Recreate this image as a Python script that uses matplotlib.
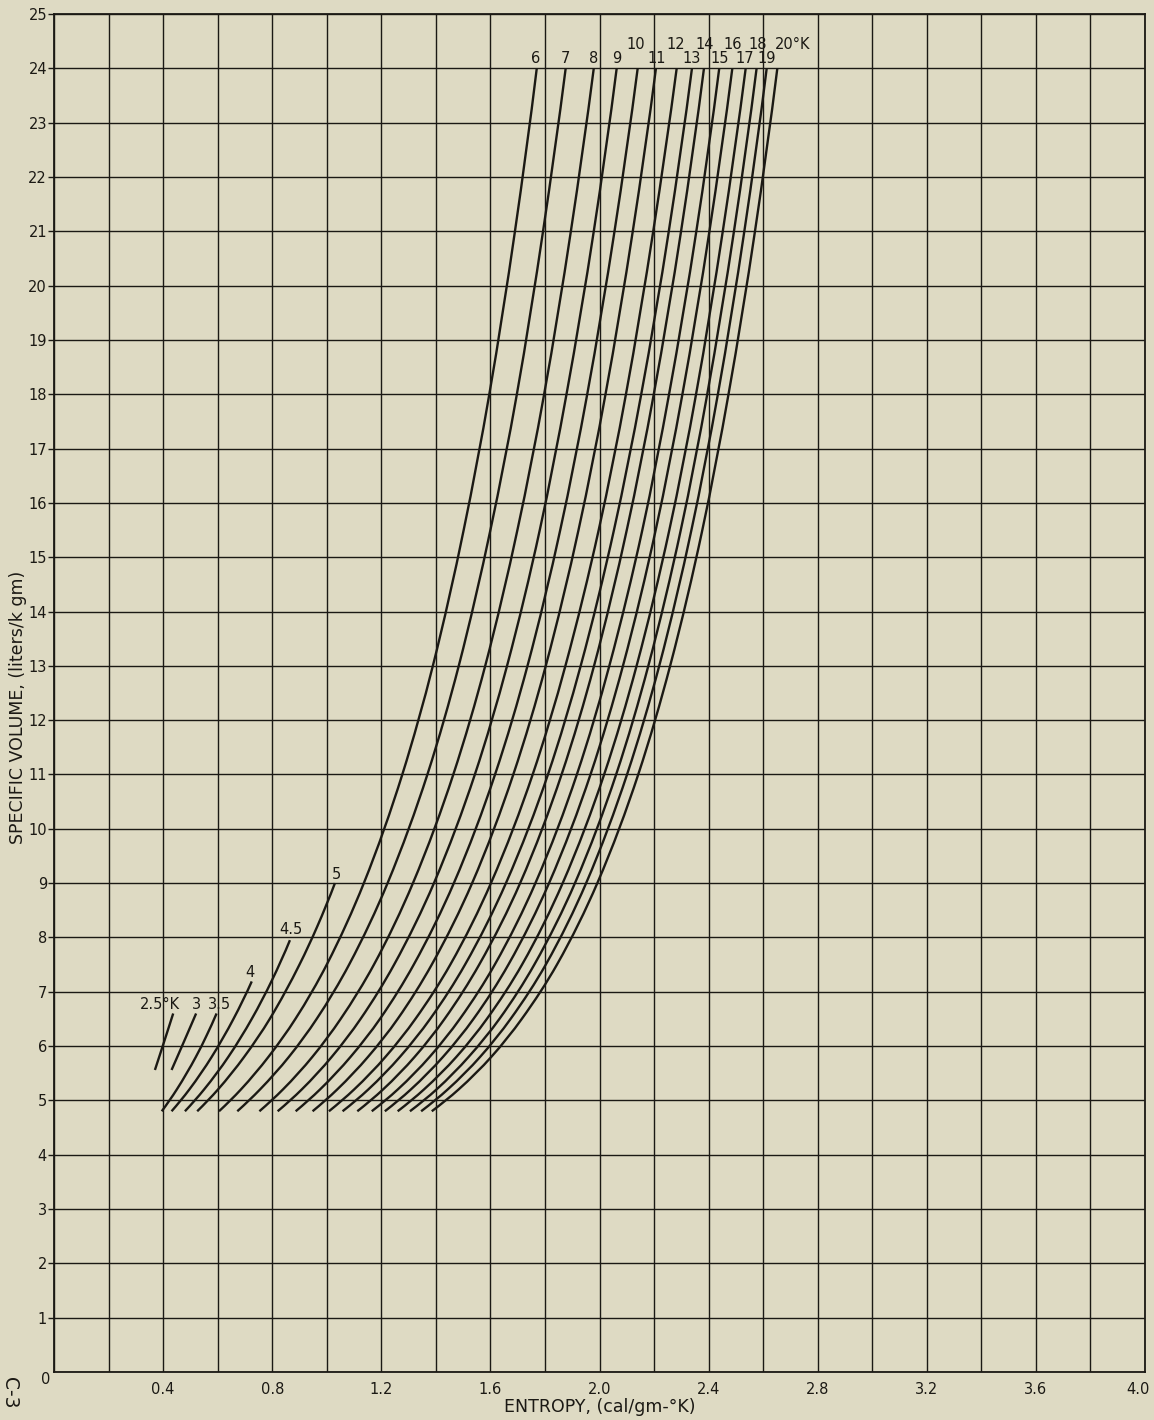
import matplotlib
matplotlib.use('Agg')
import matplotlib.pyplot as plt
from matplotlib.ticker import MultipleLocator
from matplotlib.path import Path
from matplotlib.patches import PathPatch
from matplotlib.transforms import ScaledTranslation

# ---------------- data ----------------
# common specific-volume levels for the 6..20 K isotherms (liters/k gm)
volume_levels = [4.8, 5.2, 5.8, 6.5, 7.5, 9, 11, 13, 15.5, 18, 21, 24]

entropy_6K  = [0.605, 0.685, 0.786, 0.885, 1.000, 1.136, 1.277, 1.389, 1.502, 1.596, 1.690, 1.770]
entropy_7K  = [0.672, 0.755, 0.861, 0.963, 1.082, 1.223, 1.369, 1.484, 1.600, 1.697, 1.793, 1.876]
entropy_8K  = [0.753, 0.839, 0.947, 1.051, 1.173, 1.316, 1.464, 1.581, 1.699, 1.797, 1.895, 1.979]
entropy_9K  = [0.820, 0.908, 1.018, 1.124, 1.247, 1.393, 1.543, 1.661, 1.781, 1.879, 1.979, 2.063]
entropy_10K = [0.886, 0.975, 1.087, 1.195, 1.319, 1.466, 1.617, 1.736, 1.856, 1.955, 2.055, 2.140]
entropy_11K = [0.948, 1.038, 1.151, 1.260, 1.385, 1.533, 1.684, 1.803, 1.923, 2.022, 2.122, 2.207]
entropy_12K = [1.008, 1.100, 1.215, 1.325, 1.453, 1.602, 1.755, 1.875, 1.997, 2.097, 2.197, 2.283]
entropy_13K = [1.058, 1.152, 1.268, 1.379, 1.507, 1.657, 1.811, 1.931, 2.053, 2.153, 2.254, 2.339]
entropy_14K = [1.112, 1.206, 1.322, 1.432, 1.559, 1.709, 1.861, 1.980, 2.100, 2.199, 2.299, 2.383]
entropy_15K = [1.165, 1.260, 1.377, 1.488, 1.616, 1.765, 1.917, 2.036, 2.157, 2.255, 2.355, 2.439]
entropy_16K = [1.213, 1.308, 1.426, 1.538, 1.666, 1.815, 1.967, 2.086, 2.206, 2.304, 2.403, 2.487]
entropy_17K = [1.260, 1.356, 1.475, 1.587, 1.716, 1.865, 2.017, 2.136, 2.256, 2.354, 2.452, 2.536]
entropy_18K = [1.305, 1.402, 1.520, 1.633, 1.761, 1.910, 2.061, 2.179, 2.298, 2.395, 2.493, 2.576]
entropy_19K = [1.346, 1.443, 1.562, 1.674, 1.803, 1.951, 2.101, 2.219, 2.337, 2.434, 2.531, 2.613]
entropy_20K = [1.385, 1.483, 1.603, 1.715, 1.844, 1.992, 2.142, 2.259, 2.377, 2.473, 2.570, 2.652]

# short low-temperature isotherms
volume_5K    = [4.8, 5.2, 5.8, 6.5, 7.5, 8.2, 9.0]
entropy_5K   = [0.525, 0.601, 0.697, 0.791, 0.900, 0.965, 1.030]
volume_4_5K  = [4.8, 5.2, 5.8, 6.5, 7.2, 7.95]
entropy_4_5K = [0.480, 0.550, 0.639, 0.725, 0.798, 0.865]
volume_4K    = [4.8, 5.2, 5.8, 6.5, 7.19]
entropy_4K   = [0.431, 0.496, 0.578, 0.658, 0.725]
volume_3_5K  = [4.8, 5.2, 5.8, 6.2, 6.6]
entropy_3_5K = [0.395, 0.450, 0.520, 0.560, 0.596]
volume_3K    = [5.56, 6.1, 6.6]
entropy_3K   = [0.431, 0.478, 0.521]
volume_2_5K  = [5.56, 6.1, 6.6]
entropy_2_5K = [0.370, 0.405, 0.437]

# curve labels
high_labels = ['6', '7', '8', '9', '10', '11', '12', '13', '14', '15', '16', '17', '18', '19', '20°K']
low_labels = ['2.5°K', '3', '3.5', '4', '4.5', '5']

# tick labels
x_tick_values = [0.4, 0.8, 1.2, 1.6, 2.0, 2.4, 2.8, 3.2, 3.6, 4.0]
x_tick_labels = ['0.4', '0.8', '1.2', '1.6', '2.0', '2.4', '2.8', '3.2', '3.6', '4.0']
y_tick_values = list(range(1, 26))
y_tick_labels = [str(v) for v in y_tick_values]

# ---------------- layout / style ----------------
BG = '#dedac3'
INK = '#1b1914'
W, H = 1154, 1420

high_series = [entropy_6K, entropy_7K, entropy_8K, entropy_9K, entropy_10K,
               entropy_11K, entropy_12K, entropy_13K, entropy_14K, entropy_15K,
               entropy_16K, entropy_17K, entropy_18K, entropy_19K, entropy_20K]
low_series = [(entropy_2_5K, volume_2_5K), (entropy_3K, volume_3K),
              (entropy_3_5K, volume_3_5K), (entropy_4K, volume_4K),
              (entropy_4_5K, volume_4_5K), (entropy_5K, volume_5K)]

# label anchor positions (data coords)
high_label_x = [1.767, 1.876, 1.979, 2.063, 2.134, 2.210, 2.279, 2.338, 2.384,
                2.442, 2.487, 2.533, 2.579, 2.613, 2.709]
high_label_y = [24.18, 24.18, 24.18, 24.18, 24.44, 24.18, 24.44, 24.18, 24.44,
                24.18, 24.44, 24.18, 24.44, 24.18, 24.44]
low_label_x = [0.389, 0.521, 0.606, 0.719, 0.868, 1.034]
low_label_y = [6.76, 6.76, 6.76, 7.36, 8.14, 9.16]


def smooth_path(xs, vs):
    """Smooth Bezier path through the read points (monotone Hermite in v)."""
    n = len(xs)
    h = [vs[i + 1] - vs[i] for i in range(n - 1)]
    d = [(xs[i + 1] - xs[i]) / h[i] for i in range(n - 1)]
    m = [0.0] * n
    if n == 2:
        m = [d[0], d[0]]
    else:
        for i in range(1, n - 1):
            if d[i - 1] * d[i] <= 0:
                m[i] = 0.0
            else:
                w1 = 2 * h[i] + h[i - 1]
                w2 = h[i] + 2 * h[i - 1]
                m[i] = (w1 + w2) / (w1 / d[i - 1] + w2 / d[i])
        m[0] = ((2 * h[0] + h[1]) * d[0] - h[0] * d[1]) / (h[0] + h[1])
        if m[0] * d[0] <= 0:
            m[0] = 0.0
        m[-1] = ((2 * h[-1] + h[-2]) * d[-1] - h[-1] * d[-2]) / (h[-1] + h[-2])
        if m[-1] * d[-1] <= 0:
            m[-1] = 0.0
    verts = [(xs[0], vs[0])]
    codes = [Path.MOVETO]
    for i in range(n - 1):
        hh = h[i]
        verts += [(xs[i] + m[i] * hh / 3, vs[i] + hh / 3),
                  (xs[i + 1] - m[i + 1] * hh / 3, vs[i + 1] - hh / 3),
                  (xs[i + 1], vs[i + 1])]
        codes += [Path.CURVE4, Path.CURVE4, Path.CURVE4]
    return Path(verts, codes)


plt.rcParams['font.family'] = ['DejaVu Sans']

fig = plt.figure(figsize=(W / 100, H / 100), dpi=100, facecolor=BG)
left, right, top, bottom = 54, 1145, 14, 1372
ax = fig.add_axes([left / W, 1 - bottom / H, (right - left) / W, (bottom - top) / H])
ax.set_facecolor(BG)

ax.set_xlim(0, 4.0)
ax.set_ylim(0, 25)

# grid
ax.xaxis.set_minor_locator(MultipleLocator(0.2))
ax.yaxis.set_minor_locator(MultipleLocator(1))
ax.grid(which='both', color=INK, linewidth=1.0)
ax.set_axisbelow(True)

for s in ax.spines.values():
    s.set_color(INK)
    s.set_linewidth(1.3)

ax.set_xticks(x_tick_values)
ax.set_xticklabels(x_tick_labels)
ax.set_yticks(y_tick_values)
ax.set_yticklabels(y_tick_labels)
ax.tick_params(axis='x', which='both', length=0, pad=7, labelsize=10.5, colors=INK)
ax.tick_params(axis='y', which='major', length=4, width=1.0, pad=1, labelsize=10.5, colors=INK)
ax.tick_params(axis='y', which='minor', length=0)

# shift the last x label (4.0) slightly left, as in the original
last = ax.get_xticklabels()[-1]
last.set_transform(last.get_transform() + ScaledTranslation(-0.07, 0, fig.dpi_scale_trans))

# curves
for ent in high_series:
    ax.add_patch(PathPatch(smooth_path(ent, volume_levels), facecolor='none',
                           edgecolor=INK, linewidth=1.7, capstyle='butt'))
for ent, vol in low_series:
    ax.add_patch(PathPatch(smooth_path(ent, vol), facecolor='none',
                           edgecolor=INK, linewidth=1.7, capstyle='butt'))

# curve labels
for lab, x, y in zip(high_labels, high_label_x, high_label_y):
    ax.text(x, y, lab, ha='center', va='center', fontsize=10.5, color=INK)
for lab, x, y in zip(low_labels, low_label_x, low_label_y):
    ax.text(x, y, lab, ha='center', va='center', fontsize=10.5, color=INK)

# origin label
ax.text(-0.015, -0.13, '0', ha='right', va='center', fontsize=10.5, color=INK)

# axis titles
fig.text(600 / W, 1 - 1407 / H, 'ENTROPY, (cal/gm-°K)', ha='center', va='center',
         fontsize=12.5, color=INK)
fig.text(18 / W, 1 - 707 / H, 'SPECIFIC VOLUME, (liters/k gm)', ha='center', va='center',
         rotation=90, fontsize=12.5, color=INK)
fig.text(9 / W, 1 - 1377 / H, 'C-3', ha='center', va='top', rotation=-90,
         fontsize=13.5, color=INK)

fig.savefig('out.png', dpi=100, facecolor=BG)
